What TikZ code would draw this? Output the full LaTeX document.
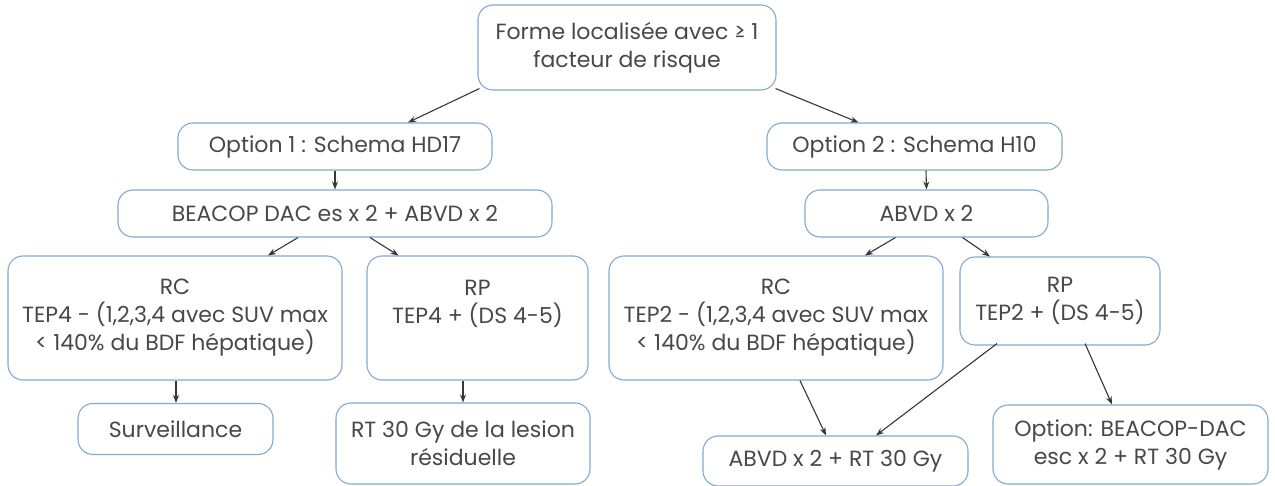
\documentclass[tikz,border=0pt]{standalone}
\usepackage{fontspec}
\setmainfont{Poppins}
\usetikzlibrary{arrows.meta,calc}
\definecolor{boxline}{RGB}{130,170,208}
\definecolor{txt}{RGB}{72,72,72}
\definecolor{arr}{RGB}{55,55,55}
\tikzset{
  box/.style={draw=boxline, line width=1.1pt, rounded corners=15pt, fill=white,
    text=txt, align=center, inner sep=0pt,
    font=\fontsize{22}{28}\selectfont},
  link/.style={draw=arr, line width=1.1pt, -{Stealth[length=8pt,width=6pt]}}
}
\begin{document}
\begin{tikzpicture}[x=1pt,y=1pt]
\useasboundingbox[fill=white] (0,0) rectangle (1275,-486);

% top level
\node[box, minimum width=298, minimum height=85] (top) at (627,-47.5)
  {Forme localisée avec ≥ 1\\facteur de risque};

% the two options
\node[box, minimum width=314, minimum height=47] (opt1) at (335,-146.5)
  {Option 1 : Schema HD17};
\node[box, minimum width=295, minimum height=47] (opt2) at (914.5,-146.5)
  {Option 2 : Schema H10};

% chemotherapy
\node[box, minimum width=434, minimum height=47] (beacop) at (335,-213.5)
  {BEACOP DAC es x 2 + ABVD x 2};
\node[box, minimum width=243, minimum height=47] (abvd) at (926.5,-213.5)
  {ABVD x 2};

% response after option 1
\node[box, minimum width=334, minimum height=124] (rc1) at (175,-318)
  {RC\\TEP4 - (1,2,3,4 avec SUV max\\< 140\% du BDF hépatique)};
\node[box, minimum width=221, minimum height=124] (rp1) at (477.5,-318)
  {RP\\TEP4 + (DS 4-5)\\\vphantom{(}};

% response after option 2
\node[box, minimum width=334, minimum height=124] (rc2) at (776,-318)
  {RC\\TEP2 - (1,2,3,4 avec SUV max\\< 140\% du BDF hépatique)};
\node[box, minimum width=200, minimum height=88] (rp2) at (1060,-301)
  {RP\\TEP2 + (DS 4-5)};

% follow-up
\node[box, minimum width=195, minimum height=51] (surv) at (175.5,-429)
  {Surveillance};
\node[box, minimum width=254, minimum height=81] (rt) at (463,-443.5)
  {RT 30 Gy de la lesion\\résiduelle};
\node[box, minimum width=265, minimum height=50] (abvdrt) at (835.5,-461)
  {ABVD x 2 + RT 30 Gy};
\node[box, minimum width=275, minimum height=79] (escrt) at (1130.5,-444.5)
  {Option: BEACOP-DAC\\esc x 2 + RT 30 Gy};

% connectors
\draw[link] ([xshift=2pt,yshift=2pt]top.south west) -- ([xshift=73pt]opt1.north);
\draw[link] ([xshift=-1pt,yshift=2pt]top.south east) -- ([xshift=-56pt]opt2.north);
\draw[link] (opt1.south) -- (beacop.north);
\draw[link] ([xshift=11.5pt]opt2.south) -- (abvd.north);
\draw[link] ([xshift=-37pt]beacop.south) -- ([xshift=93pt]rc1.north);
\draw[link] ([xshift=35pt]beacop.south) -- ([xshift=-79pt]rp1.north);
\draw[link] ([xshift=-31pt]abvd.south) -- ([xshift=89pt]rc2.north);
\draw[link] ([xshift=36pt]abvd.south) -- ([xshift=-70pt]rp2.north);
\draw[link] ([xshift=1pt]rc1.south) -- ([xshift=0.5pt]surv.north);
\draw[link] ([xshift=-14.5pt]rp1.south) -- (rt.north);
\draw[link] ([xshift=24pt]rc2.south) -- ([xshift=-9.5pt]abvdrt.north);
\draw[link] ([xshift=-63pt,yshift=2pt]rp2.south) -- ([xshift=40.5pt]abvdrt.north);
\draw[link] ([xshift=25pt,yshift=2pt]rp2.south) -- ([xshift=-18.5pt]escrt.north);
\end{tikzpicture}
\end{document}
